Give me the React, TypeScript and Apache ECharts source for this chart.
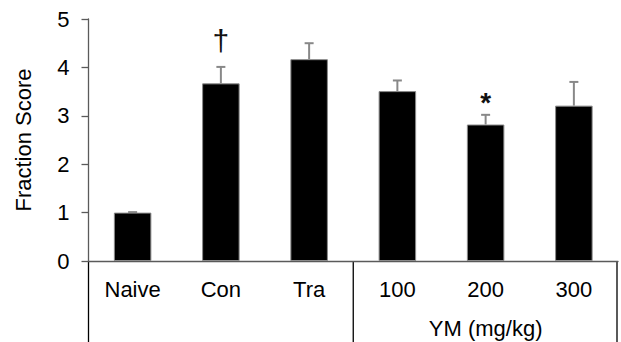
import React, { useEffect, useRef } from "react";
import * as echarts from "echarts";

const categories = ["Naive", "Con", "Tra", "100", "200", "300"];
const means = [1.0, 3.67, 4.17, 3.51, 2.82, 3.21];
const upperErrors = [0.01, 0.34, 0.33, 0.22, 0.2, 0.49];
const marks = ["", "†", "", "", "*", ""];
const yTicks = [0, 1, 2, 3, 4, 5];
const groupLabel = "YM (mg/kg)";
const groupCategory = "200";
const separatorBefore = ["Naive", "100"];

const FONT = "'Liberation Sans', Arial, sans-serif";

export default function App() {
  const ref = useRef<HTMLDivElement>(null);
  useEffect(() => {
    document.body.style.margin = "0";
    const el = ref.current!;
    const chart = echarts.init(el, null, { renderer: "svg" });
    const errData = categories.map((c, i) => [i, means[i], means[i] + upperErrors[i]]);
    chart.setOption({
      animation: false,
      grid: { left: 88.5, right: 3, top: 19, bottom: 81, containLabel: false },
      xAxis: {
        type: "category",
        data: categories,
        axisLine: { show: true, lineStyle: { color: "#5a5a5a", width: 1.3 } },
        axisTick: { show: false },
        axisLabel: { color: "#000", fontFamily: FONT, fontSize: 22, margin: 17 },
      },
      yAxis: {
        type: "value",
        min: yTicks[0],
        max: yTicks[yTicks.length - 1],
        interval: 1,
        name: "Fraction Score",
        nameLocation: "middle",
        nameGap: 54,
        nameTextStyle: { color: "#000", fontFamily: FONT, fontSize: 22 },
        axisLine: { show: true, lineStyle: { color: "#5a5a5a", width: 1.3 } },
        axisTick: { show: true, inside: false, length: 7, lineStyle: { color: "#5a5a5a", width: 1.3 } },
        axisLabel: { color: "#000", fontFamily: FONT, fontSize: 22, margin: 19 },
        splitLine: { show: false },
      },
      series: [
        {
          type: "bar",
          data: means,
          barWidth: "42.5%",
          itemStyle: { color: "#000", borderColor: "#8a8a8a", borderWidth: 1 },
        },
        {
          type: "custom",
          data: errData,
          z: 3,
          renderItem: (params: any, api: any) => {
            const x = api.value(0);
            const lo = api.coord([x, api.value(1)]);
            const hi = api.coord([x, api.value(2)]);
            const half = 4.5;
            return {
              type: "group",
              children: [
                { type: "line", shape: { x1: lo[0], y1: lo[1], x2: hi[0], y2: hi[1] }, style: { stroke: "#888", lineWidth: 2 } },
                { type: "line", shape: { x1: hi[0] - half, y1: hi[1], x2: hi[0] + half, y2: hi[1] }, style: { stroke: "#888", lineWidth: 2 } },
              ],
            };
          },
        },
      ],
    });

    const toPx = (cat: string, v: number) =>
      chart.convertToPixel({ xAxisIndex: 0, yAxisIndex: 0 }, [cat, v]) as number[];
    const origin = toPx(categories[0], 0);
    const bottom = el.clientHeight;
    const step = toPx(categories[1], 0)[0] - origin[0];
    const graphics: any[] = [];
    const sepXs = separatorBefore.map((c) => toPx(c, 0)[0] - step / 2);
    sepXs.push(toPx(categories[categories.length - 1], 0)[0] + step / 2 - 1);
    sepXs.forEach((x) => {
      graphics.push({
        type: "line",
        shape: { x1: x, y1: origin[1], x2: x, y2: bottom },
        style: { stroke: "#000", lineWidth: 1.3 },
      });
    });
    const gp = toPx(groupCategory, 0);
    graphics.push({
      type: "text",
      x: gp[0],
      y: origin[1] + 67,
      style: { text: groupLabel, fill: "#000", font: `22px ${FONT}`, align: "center", verticalAlign: "middle" },
    });
    marks.forEach((m, i) => {
      if (!m) return;
      const p = toPx(categories[i], means[i] + upperErrors[i]);
      const isDagger = m === "†";
      graphics.push({
        type: "text",
        x: p[0],
        y: p[1] - (isDagger ? 26 : 12),
        style: {
          text: m,
          fill: "#111",
          font: isDagger ? `30px ${FONT}` : `bold 28px ${FONT}`,
          align: "center",
          verticalAlign: "middle",
        },
      });
    });
    chart.setOption({ graphic: graphics });
    return () => chart.dispose();
  }, []);
  return <div ref={ref} style={{ width: 621, height: 342 }} />;
}
